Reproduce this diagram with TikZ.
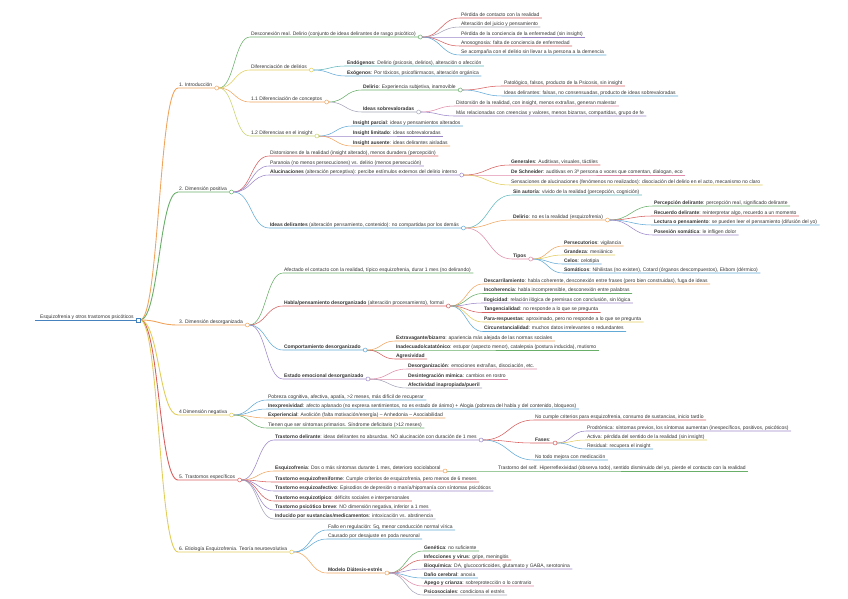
\documentclass[tikz,border=0pt]{standalone}
\usepackage{fontspec}
\newfontfamily\mmfamily{Liberation Sans}
\usetikzlibrary{calc}

% colores de las ramas
\definecolor{mmroot}{RGB}{70,130,190}
\definecolor{mmorange}{RGB}{240,165,95}
\definecolor{mmgreen}{RGB}{105,175,105}
\definecolor{mmyellow}{RGB}{225,205,90}
\definecolor{mmlime}{RGB}{200,210,110}
\definecolor{mmred}{RGB}{215,95,95}
\definecolor{mmpurple}{RGB}{155,135,200}
\definecolor{mmblue}{RGB}{100,170,215}
\definecolor{mmteal}{RGB}{95,185,190}
\definecolor{mmpink}{RGB}{225,140,170}
\definecolor{mmgrey}{RGB}{165,165,185}

\newcommand{\mmfont}{\mmfamily\fontsize{5}{6}\selectfont}

% rama curva: padre, hijo, color
\newcommand{\mmlink}[4][0.55pt]{%
  \draw[draw=#4, line width=#1] let \p1=([xshift=5.5pt]#2.south east), \p2=(#3.south west), \p3=([xshift=1.5pt]#3.south east) in
    (\p1) .. controls ({(\x1+\x2)/2},\y1) and ({(\x1+\x2)/2},\y2) .. (\p2) -- (\p3);}
% circulo al final de un tema con hijos
\newcommand{\mmknob}[2]{%
  \draw[draw=#2, fill=white, line width=0.5pt] ([xshift=3.5pt]#1.south east) circle (2pt);}

\tikzset{
  topic/.style={anchor=south west, inner xsep=0.8pt, inner ysep=0.6pt, text height=3.7pt, text depth=1pt, font=\mmfont, text=black!80},
}

\begin{document}
\begin{tikzpicture}[x=1pt, y=-1pt]
\useasboundingbox (0,0) rectangle (848,599);

% tema central
\node[topic] (root) at (39,320) {Esquizofrenia y otros trastornos psicóticos};
\draw[mmroot, line width=0.9pt] ([xshift=-4pt]root.south west) -- ([xshift=1.5pt]root.south east);

% ramas principales
\node[topic] (b1) at (178,88) {1. Introducción};
\node[topic] (b2) at (178,192) {2. Dimensión positiva};
\node[topic] (b3) at (178,325) {3. Dimensión desorganizada};
\node[topic] (b4) at (178,415) {4 Dimensión negativa};
\node[topic] (b5) at (178,480) {5. Trastornos específicos};
\node[topic] (b6) at (178,552) {6. Etiología Esquizofrenia. Teoría neuroevolutiva};
\foreach \nm/\c in {b1/mmorange, b2/mmgreen, b3/mmorange, b4/mmyellow, b5/mmred, b6/mmyellow}
  {\mmlink[0.9pt]{root}{\nm}{\c}}

% 1. Introducción
\node[topic] (c11) at (250,37) {Desconexión real. Delirio (conjunto de ideas delirantes de rasgo psicótico)};
\node[topic] (c12) at (250,70) {Diferenciación de delirios};
\node[topic] (c13) at (250,102) {1.1 Diferenciación de conceptos};
\node[topic] (c14) at (250,136) {1.2 Diferencias en el insight};
\foreach \nm/\c in {c11/mmgreen, c12/mmyellow, c13/mmorange, c14/mmlime}
  {\mmlink{b1}{\nm}{\c}}

\foreach \nm/\yy/\c/\txt in {
  a1/18/mmred/{Pérdida de contacto con la realidad},
  a2/27/mmgrey/{Alteración del juicio y pensamiento},
  a3/37/mmpurple/{Pérdida de la conciencia de la enfermedad (sin insight)},
  a4/46/mmred/{Anosognosia: falta de conciencia de enfermedad},
  a5/55/mmblue/{Se acompaña con el delirio sin llevar a la persona a la demencia}}
  {\node[topic] (\nm) at (460,\yy) {\txt}; \mmlink{c11}{\nm}{\c}}

\foreach \nm/\yy/\c/\txt in {
  en/66/mmteal/{\textbf{Endógenos}: Delirio (psicosis, delirios), alteración o afección},
  ex/76/mmblue/{\textbf{Exógenos}: Por tóxicos, psicofármacos, alteración orgánica}}
  {\node[topic] (\nm) at (346,\yy) {\txt}; \mmlink{c12}{\nm}{\c}}

\node[topic] (d1) at (362,90) {\textbf{Delirio}: Experiencia subjetiva, inamovible};
\node[topic] (d2) at (362,112) {\textbf{Ideas sobrevaloradas}};
\mmlink{c13}{d1}{mmgreen}
\mmlink{c13}{d2}{mmgrey}

\foreach \nm/\yy/\c/\txt in {
  d11/86/mmred/{Patológico, falsos, producto de la Psicosis, sin insight},
  d12/96/mmblue/{Ideas delirantes: falsas, no consensuadas, producto de ideas sobrevaloradas}}
  {\node[topic] (\nm) at (503,\yy) {\txt}; \mmlink{d1}{\nm}{\c}}

\foreach \nm/\yy/\c/\txt in {
  d21/106/mmpink/{Distorsión de la realidad, con insight, menos extrañas, generan malestar},
  d22/116/mmpurple/{Más relacionadas con creencias y valores, menos bizarras, compartidas, grupo de fe}}
  {\node[topic] (\nm) at (455,\yy) {\txt}; \mmlink{d2}{\nm}{\c}}

\foreach \nm/\yy/\c/\txt in {
  i1/126/mmblue/{\textbf{Insight parcial}: ideas y pensamientos alterados},
  i2/136/mmpurple/{\textbf{Insight limitado}: ideas sobrevaloradas},
  i3/146/mmorange/{\textbf{Insight ausente}: ideas delirantes aisladas}}
  {\node[topic] (\nm) at (352,\yy) {\txt}; \mmlink{c14}{\nm}{\c}}

% 2. Dimensión positiva
\node[topic] (c21) at (269,156) {Distorsiones de la realidad (insight alterado), menos duradera (percepción)};
\node[topic] (c22) at (269,166) {Paranoia (no menos persecuciones) vs. delirio (menos persecución)};
\node[topic] (c23) at (269,175) {\textbf{Alucinaciones} (alteración perceptiva): percibe estímulos externos del delirio interno};
\node[topic] (c24) at (269,228) {\textbf{Ideas delirantes} (alteración pensamiento, contenido): no compartidas por los demás};
\foreach \nm/\c in {c21/mmred, c22/mmpurple, c23/mmpurple, c24/mmblue}
  {\mmlink{b2}{\nm}{\c}}

\foreach \nm/\yy/\c/\txt in {
  h1/165/mmred/{\textbf{Generales}: Auditivas, visuales, táctiles},
  h2/175/mmpink/{\textbf{De Schneider}: auditivas en 3ª persona o voces que comentan, dialogan, eco},
  h3/185/mmyellow/{Sensaciones de alucinaciones (fenómenos no realizados): disociación del delirio en el acto, mecanismo no claro}}
  {\node[topic] (\nm) at (510,\yy) {\txt}; \mmlink{c23}{\nm}{\c}}

\node[topic] (e1) at (512,195) {\textbf{Sin autoría}: vivido de la realidad (percepción, cognición)};
\node[topic] (e2) at (512,220) {\textbf{Delirio}: no es la realidad (esquizofrenia)};
\node[topic] (e3) at (512,259) {\textbf{Tipos}};
\mmlink{c24}{e1}{mmteal}
\mmlink{c24}{e2}{mmorange}
\mmlink{c24}{e3}{mmpink}

\foreach \nm/\yy/\c/\txt in {
  e21/206/mmgreen/{\textbf{Percepción delirante}: percepción real, significado delirante},
  e22/216/mmred/{\textbf{Recuerdo delirante}: reinterpretar algo, recuerdo a un momento},
  e23/225/mmblue/{\textbf{Lectura o pensamiento}: se pueden leer el pensamiento (difusión del yo)},
  e24/235/mmpurple/{\textbf{Posesión somática}: le infligen dolor}}
  {\node[topic] (\nm) at (653,\yy) {\txt}; \mmlink{e2}{\nm}{\c}}

\foreach \nm/\yy/\c/\txt in {
  e31/246/mmorange/{\textbf{Persecutorios}: vigilancia},
  e32/255/mmyellow/{\textbf{Grandeza}: mesiánico},
  e33/264/mmblue/{\textbf{Celos}: celotipia},
  e34/273/mmblue/{\textbf{Somáticos}: Nihilistas (no existen), Cotard (órganos descompuestos), Ekbom (dérmico)}}
  {\node[topic] (\nm) at (563,\yy) {\txt}; \mmlink{e3}{\nm}{\c}}

% 3. Dimensión desorganizada
\node[topic] (c31) at (283,273) {Afectado el contacto con la realidad, típico esquizofrenia, durar 1 mes (no delirando)};
\node[topic] (c32) at (283,306) {\textbf{Habla/pensamiento desorganizado} (alteración procesamiento), formal};
\node[topic] (c33) at (283,350) {\textbf{Comportamiento desorganizado}};
\node[topic] (c34) at (283,379) {\textbf{Estado emocional desorganizado}};
\foreach \nm/\c in {c31/mmgreen, c32/mmred, c33/mmblue, c34/mmpurple}
  {\mmlink{b3}{\nm}{\c}}

\foreach \nm/\yy/\c/\txt in {
  k1/284/mmorange/{\textbf{Descarrilamiento}: habla coherente, desconexión entre frases (pero bien construidas), fuga de ideas},
  k2/293.5/mmgreen/{\textbf{Incoherencia}: habla incomprensible, desconexión entre palabras},
  k3/303/mmpurple/{\textbf{Ilogicidad}: relación ilógica de premisas con conclusión, sin lógica},
  k4/312.5/mmred/{\textbf{Tangencialidad}: no responde a lo que se pregunta},
  k5/322/mmyellow/{\textbf{Para-respuestas}: aproximado, pero no responde a lo que se pregunta},
  k6/331.5/mmblue/{\textbf{Circunstancialidad}: muchos datos irrelevantes o redundantes}}
  {\node[topic] (\nm) at (483,\yy) {\txt}; \mmlink{c32}{\nm}{\c}}

\foreach \nm/\yy/\c/\txt in {
  m1/341/mmorange/{\textbf{Extravagante/bizarro}: apariencia más alejada de las normas sociales},
  m2/350/mmgreen/{\textbf{Inadecuado/catatónico}: estupor (aspecto menor), catalepsia (postura inducida), mutismo},
  m3/359/mmred/{\textbf{Agresividad}}}
  {\node[topic] (\nm) at (395,\yy) {\txt}; \mmlink{c33}{\nm}{\c}}

\foreach \nm/\yy/\c/\txt in {
  s1/369/mmpink/{\textbf{Desorganización}: emociones extrañas, disociación, etc.},
  s2/379/mmpink/{\textbf{Desintegración mímica}: cambios en rostro},
  s3/388/mmgrey/{\textbf{Afectividad inapropiada/pueril}}}
  {\node[topic] (\nm) at (407,\yy) {\txt}; \mmlink{c34}{\nm}{\c}}

% 4 Dimensión negativa
\foreach \nm/\yy/\c/\txt in {
  c41/400/mmblue/{Pobreza cognitiva, afectiva, apatía, >2 meses, más difícil de recuperar},
  c42/409/mmblue/{\textbf{Inexpresividad}: afecto aplanado (no expresa sentimientos, no es estado de ánimo) + Alogia (pobreza del habla y del contenido, bloqueos)},
  c43/418/mmorange/{\textbf{Experiencial}: Avolición (falta motivación/energía) – Anhedonia – Asociabilidad},
  c44/428/mmgreen/{Tienen que ser síntomas primarios. Síndrome deficitario (>12 meses)}}
  {\node[topic] (\nm) at (267,\yy) {\txt}; \mmlink{b4}{\nm}{\c}}

% 5. Trastornos específicos
\foreach \nm/\yy/\c/\txt in {
  c51/440/mmpurple/{\textbf{Trastorno delirante}: ideas delirantes no absurdas. NO alucinación con duración de 1 mes},
  c52/471/mmorange/{\textbf{Esquizofrenia}: Dos o más síntomas durante 1 mes, deterioro sociolaboral},
  c53/482/mmred/{\textbf{Trastorno esquizofreniforme}: Cumple criterios de esquizofrenia, pero menos de 6 meses},
  c54/491/mmpurple/{\textbf{Trastorno esquizoafectivo}: Episodios de depresión o manía/hipomanía con síntomas psicóticos},
  c55/501/mmred/{\textbf{Trastorno esquizotípico}: déficits sociales e interpersonales},
  c56/510/mmpurple/{\textbf{Trastorno psicótico breve}: NO dimensión negativa, inferior a 1 mes},
  c57/519/mmgrey/{\textbf{Inducido por sustancias/medicamentos}: intoxicación vs. abstinencia}}
  {\node[topic] (\nm) at (274,\yy) {\txt}; \mmlink{b5}{\nm}{\c}}

\node[topic] (f1) at (534,420) {No cumple criterios para esquizofrenia, consumo de sustancias, inicio tardío};
\node[topic] (f2) at (534,443) {\textbf{Fases}:};
\node[topic] (f3) at (534,460) {No todo mejora con medicación};
\mmlink{c51}{f1}{mmred}
\mmlink{c51}{f2}{mmred}
\mmlink{c51}{f3}{mmblue}

\foreach \nm/\yy/\c/\txt in {
  p1/431/mmpurple/{Prodrómica: síntomas previos, los síntomas aumentan (inespecíficos, positivos, psicóticos)},
  p2/440/mmyellow/{Activa: pérdida del sentido de la realidad (sin insight)},
  p3/449/mmblue/{Residual: recupera el insight}}
  {\node[topic] (\nm) at (586,\yy) {\txt}; \mmlink{f2}{\nm}{\c}}

\node[topic] (g1) at (497,471) {Trastorno del self. Hiperreflexividad (observa todo), sentido disminuido del yo, pierde el contacto con la realidad};
\mmlink{c52}{g1}{mmgreen}

% 6. Etiología
\node[topic] (c61) at (327,530) {Fallo en regulación: 5q, menor conducción normal vírica};
\node[topic] (c62) at (327,539) {Causado por desajuste en poda neuronal};
\node[topic] (c63) at (327,573) {\textbf{Modelo Diátesis-estrés}};
\foreach \nm/\c in {c61/mmblue, c62/mmblue, c63/mmorange}
  {\mmlink{b6}{\nm}{\c}}

\foreach \nm/\yy/\c/\txt in {
  q1/551/mmgreen/{\textbf{Genética}: no suficiente},
  q2/560/mmred/{\textbf{Infecciones y virus}: gripe, meningitis},
  q3/569/mmpurple/{\textbf{Bioquímica}: DA, glucocorticoides, glutamato y GABA, serotonina},
  q4/578/mmblue/{\textbf{Daño cerebral}: anoxia},
  q5/586/mmpink/{\textbf{Apego y crianza}: sobreprotección o lo contrario},
  q6/595/mmgrey/{\textbf{Psicosociales}: condiciona el estrés}}
  {\node[topic] (\nm) at (423,\yy) {\txt}; \mmlink{c63}{\nm}{\c}}

% circulos de los temas con hijos
\draw[mmroot, fill=white, line width=0.5pt] ([xshift=3.5pt]root.south east) ++(-1.8,-1.8) rectangle ++(3.6,3.6);
\foreach \nm/\c in {b1/mmorange, b2/mmgreen, b3/mmorange, b4/mmyellow, b5/mmred, b6/mmyellow,
  c11/mmgreen, c12/mmyellow, c13/mmorange, c14/mmlime, d1/mmgreen, d2/mmgrey,
  c23/mmpurple, c24/mmblue, e2/mmorange, e3/mmpink,
  c32/mmred, c33/mmblue, c34/mmpurple, c51/mmpurple, f2/mmred, c52/mmorange, c63/mmorange}
  {\mmknob{\nm}{\c}}
\end{tikzpicture}
\end{document}
